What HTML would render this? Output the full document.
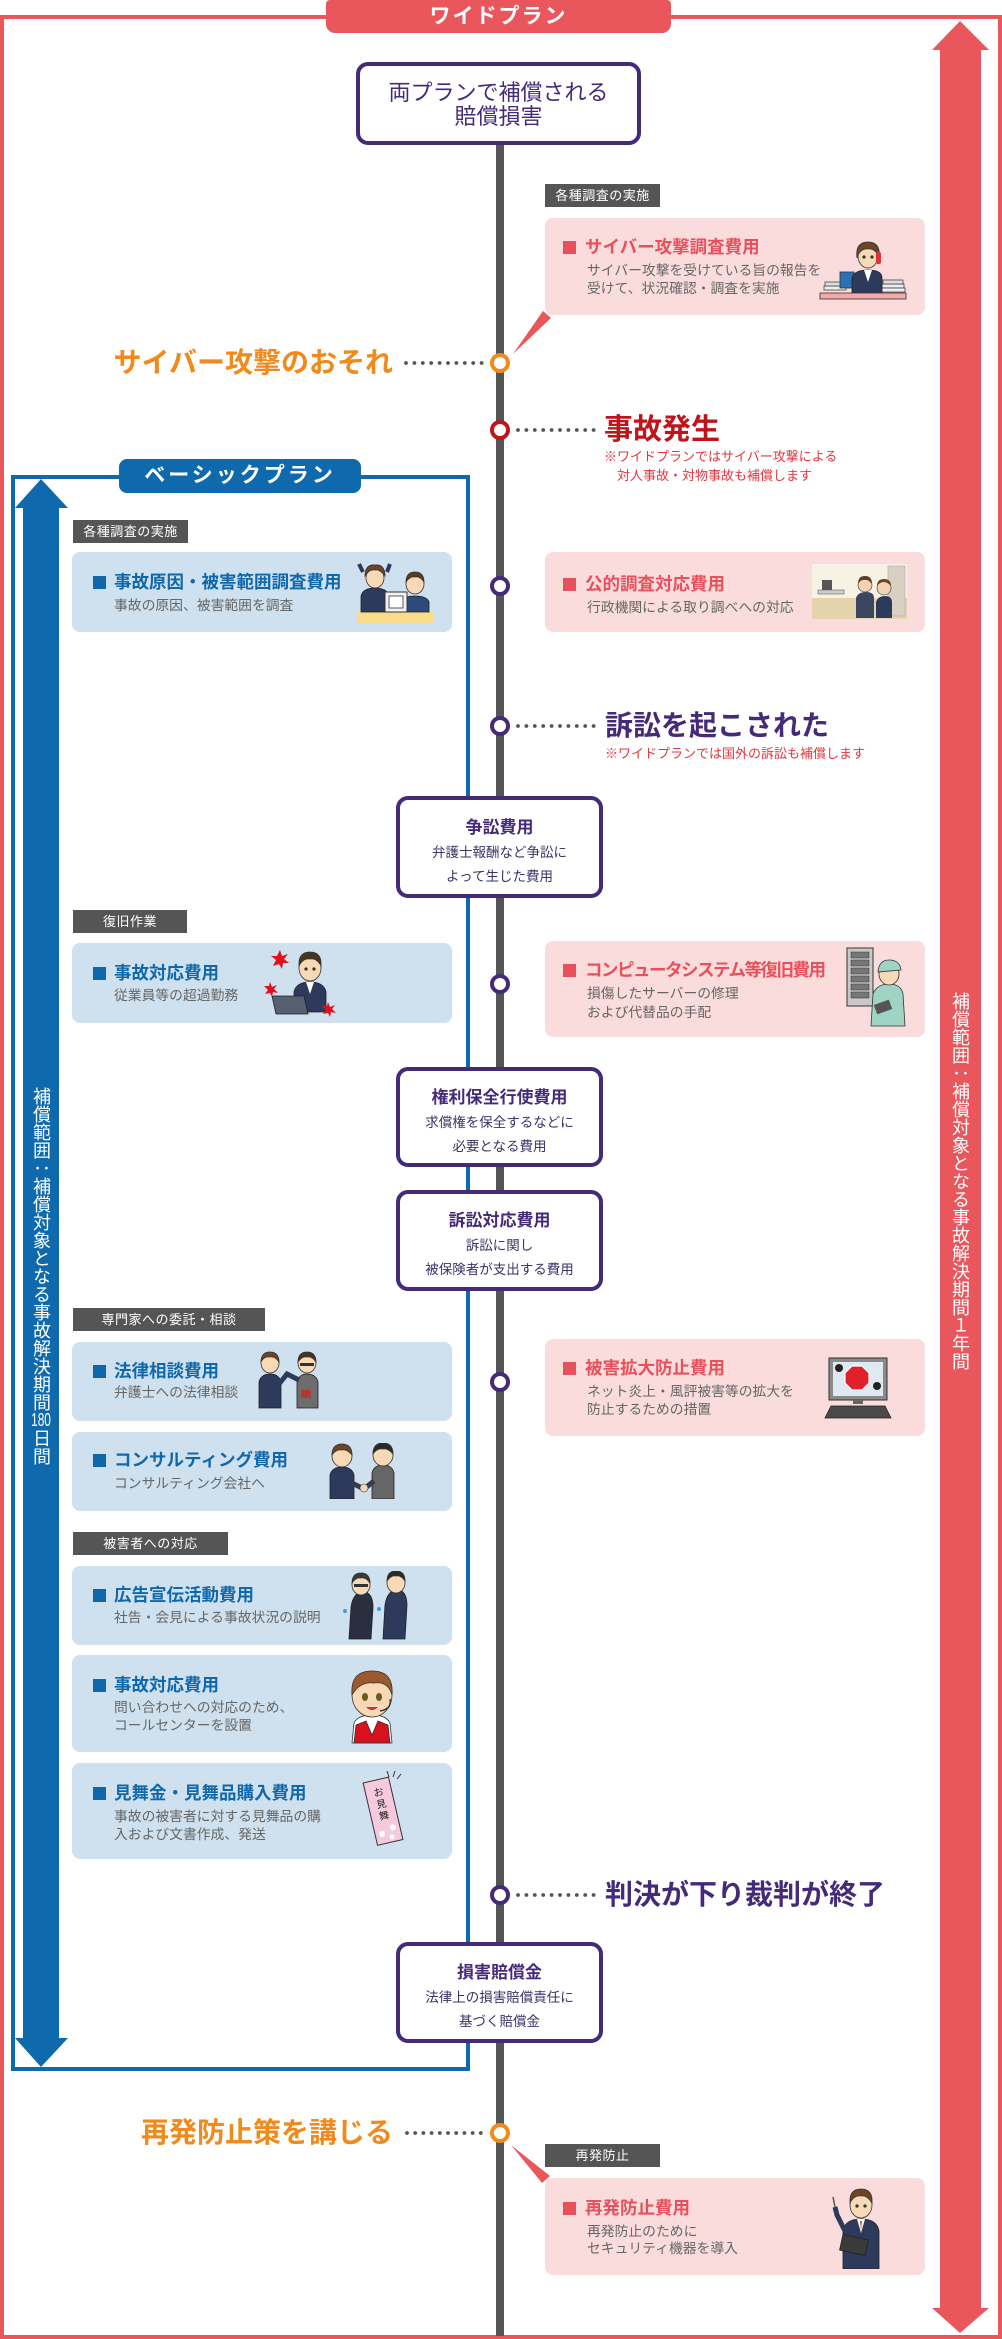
<!DOCTYPE html>
<html lang="ja">
<head>
<meta charset="utf-8">
<style>
*{margin:0;padding:0;box-sizing:border-box;}
html,body{width:1002px;height:2339px;background:#fff;overflow:hidden;}
body{position:relative;font-family:"Liberation Sans","Noto Sans CJK JP",sans-serif;}
.a{position:absolute;white-space:nowrap;}
.tag{position:absolute;background:#555;color:#fff;font-size:13px;line-height:23px;height:23px;text-align:center;letter-spacing:.5px;}
.pbox{position:absolute;left:545px;width:380px;background:#fadcdd;border-radius:8px;}
.bbox{position:absolute;left:72px;width:380px;background:#cfe1ee;border-radius:8px;}
.psq{position:absolute;left:563px;width:13px;height:13px;background:#e8505b;}
.bsq{position:absolute;left:93px;width:13px;height:13px;background:#1068ac;}
.pt{position:absolute;left:585px;font-size:17.5px;line-height:20px;font-weight:700;color:#e8505b;white-space:nowrap;}
.bt{position:absolute;left:114px;font-size:17.5px;line-height:20px;font-weight:700;color:#1068ac;white-space:nowrap;}
.pd{position:absolute;left:587px;font-size:13.8px;line-height:18px;color:#666;white-space:nowrap;}
.bd{position:absolute;left:114px;font-size:13.8px;line-height:18px;color:#666;white-space:nowrap;}
.node{position:absolute;left:396px;width:207px;background:#fff;border:4px solid #452a7a;border-radius:12px;}
.nt{position:absolute;left:396px;width:207px;text-align:center;font-size:17px;line-height:20px;font-weight:700;color:#452a7a;}
.nd{position:absolute;left:396px;width:207px;text-align:center;font-size:13.5px;line-height:24px;color:#3a3466;}
.big{position:absolute;font-size:28px;line-height:32px;font-weight:700;white-space:nowrap;}
.note{position:absolute;left:604px;font-size:13px;line-height:19px;color:#e6343c;white-space:nowrap;}
.vt{position:absolute;writing-mode:vertical-rl;font-size:18px;line-height:18px;width:18px;color:#fff;white-space:nowrap;}
.ill{position:absolute;}
</style>
</head>
<body>

<svg class="a" style="left:0;top:0" width="1002" height="2339" viewBox="0 0 1002 2339">
  <rect x="2" y="17" width="998" height="2320" fill="none" stroke="#e9565c" stroke-width="4"/>
  <polygon points="960,21 989,50 981,50 981,2308 989,2308 960,2333 932,2308 940,2308 940,50 932,50" fill="#e9565c"/>
  <rect x="13" y="477" width="455" height="1592" fill="none" stroke="#0e69ad" stroke-width="4"/>
  <polygon points="41,479 68,508 59,508 59,2038 68,2038 41,2067 15,2038 23,2038 23,508 15,508" fill="#0e69ad"/>
  <rect x="496" y="140" width="8" height="2196" fill="#555"/>
  <polygon points="543,311 551,318 513,354" fill="#e9565c"/>
  <polygon points="511,2145 550,2176 542,2183" fill="#e9565c"/>
  <g fill="#555">
    <circle cx="406" cy="363" r="1.9"/><circle cx="414.4" cy="363" r="1.9"/><circle cx="422.8" cy="363" r="1.9"/><circle cx="431.2" cy="363" r="1.9"/><circle cx="439.6" cy="363" r="1.9"/><circle cx="448" cy="363" r="1.9"/><circle cx="456.4" cy="363" r="1.9"/><circle cx="464.8" cy="363" r="1.9"/><circle cx="473.2" cy="363" r="1.9"/><circle cx="481.6" cy="363" r="1.9"/>
    <circle cx="518" cy="430" r="1.9"/><circle cx="526.4" cy="430" r="1.9"/><circle cx="534.8" cy="430" r="1.9"/><circle cx="543.2" cy="430" r="1.9"/><circle cx="551.6" cy="430" r="1.9"/><circle cx="560" cy="430" r="1.9"/><circle cx="568.4" cy="430" r="1.9"/><circle cx="576.8" cy="430" r="1.9"/><circle cx="585.2" cy="430" r="1.9"/><circle cx="593.6" cy="430" r="1.9"/>
    <circle cx="518" cy="726" r="1.9"/><circle cx="526.4" cy="726" r="1.9"/><circle cx="534.8" cy="726" r="1.9"/><circle cx="543.2" cy="726" r="1.9"/><circle cx="551.6" cy="726" r="1.9"/><circle cx="560" cy="726" r="1.9"/><circle cx="568.4" cy="726" r="1.9"/><circle cx="576.8" cy="726" r="1.9"/><circle cx="585.2" cy="726" r="1.9"/><circle cx="593.6" cy="726" r="1.9"/>
    <circle cx="518" cy="1895" r="1.9"/><circle cx="526.4" cy="1895" r="1.9"/><circle cx="534.8" cy="1895" r="1.9"/><circle cx="543.2" cy="1895" r="1.9"/><circle cx="551.6" cy="1895" r="1.9"/><circle cx="560" cy="1895" r="1.9"/><circle cx="568.4" cy="1895" r="1.9"/><circle cx="576.8" cy="1895" r="1.9"/><circle cx="585.2" cy="1895" r="1.9"/><circle cx="593.6" cy="1895" r="1.9"/>
    <circle cx="407" cy="2133" r="1.9"/><circle cx="415.2" cy="2133" r="1.9"/><circle cx="423.4" cy="2133" r="1.9"/><circle cx="431.6" cy="2133" r="1.9"/><circle cx="439.8" cy="2133" r="1.9"/><circle cx="448" cy="2133" r="1.9"/><circle cx="456.2" cy="2133" r="1.9"/><circle cx="464.4" cy="2133" r="1.9"/><circle cx="472.6" cy="2133" r="1.9"/><circle cx="480.8" cy="2133" r="1.9"/>
  </g>
  <g fill="#fff" stroke-width="4">
    <circle cx="500" cy="363" r="8" stroke="#f08a1c"/>
    <circle cx="500" cy="430" r="8" stroke="#c0141b"/>
    <circle cx="500" cy="586" r="8" stroke="#452a7a"/>
    <circle cx="500" cy="726" r="8" stroke="#452a7a"/>
    <circle cx="500" cy="984" r="8" stroke="#452a7a"/>
    <circle cx="500" cy="1382" r="8" stroke="#452a7a"/>
    <circle cx="500" cy="1895" r="8" stroke="#452a7a"/>
    <circle cx="500" cy="2133" r="8" stroke="#f08a1c"/>
  </g>
</svg>

<div class="a" style="left:326px;top:0;width:345px;height:33px;background:#e9565c;border-radius:4px 4px 9px 9px;color:#fff;font-size:21px;font-weight:700;line-height:33px;text-align:center;letter-spacing:2px;">ワイドプラン</div>

<div class="a" style="left:119px;top:459px;width:242px;height:34px;background:#0e69ad;border-radius:8px;color:#fff;font-size:21px;font-weight:700;line-height:34px;text-align:center;letter-spacing:3px;">ベーシックプラン</div>

<div class="vt" style="left:32px;top:1087px;">補償範囲：補償対象となる事故解決期間<span style="text-combine-upright:all;">180</span>日間</div>
<div class="vt" style="left:951px;top:992px;">補償範囲：補償対象となる事故解決期間１年間</div>

<div class="a" style="left:356px;top:62px;width:285px;height:83px;border:4px solid #452a7a;border-radius:12px;background:#fff;"></div>
<div class="a" style="left:356px;top:81px;width:285px;text-align:center;font-size:22px;line-height:24px;color:#452a7a;">両プランで補償される<br>賠償損害</div>

<div class="big" style="left:0;width:393px;text-align:right;top:347px;color:#f08a1c;">サイバー攻撃のおそれ</div>
<div class="big" style="left:604px;top:414px;color:#c0141b;font-size:29px;">事故発生</div>
<div class="note" style="top:447px;">※ワイドプランではサイバー攻撃による<br>　対人事故・対物事故も補償します</div>
<div class="big" style="left:605px;top:710px;color:#452a7a;">訴訟を起こされた</div>
<div class="note" style="top:744px;left:605px;">※ワイドプランでは国外の訴訟も補償します</div>
<div class="big" style="left:605px;top:1879px;color:#452a7a;">判決が下り裁判が終了</div>
<div class="big" style="left:0;width:393px;text-align:right;top:2117px;color:#f08a1c;">再発防止策を講じる</div>

<div class="tag" style="left:545px;top:184px;width:115px;">各種調査の実施</div>
<div class="tag" style="left:73px;top:520px;width:115px;">各種調査の実施</div>
<div class="tag" style="left:73px;top:910px;width:114px;">復旧作業</div>
<div class="tag" style="left:73px;top:1308px;width:192px;">専門家への委託・相談</div>
<div class="tag" style="left:73px;top:1532px;width:155px;">被害者への対応</div>
<div class="tag" style="left:545px;top:2144px;width:115px;">再発防止</div>

<div class="pbox" style="top:218px;height:97px;"></div>
<div class="psq" style="top:241px;"></div>
<div class="pt" style="top:237px;">サイバー攻撃調査費用</div>
<div class="pd" style="top:262px;">サイバー攻撃を受けている旨の報告を<br>受けて、状況確認・調査を実施</div>

<div class="pbox" style="top:552px;height:80px;"></div>
<div class="psq" style="top:578px;"></div>
<div class="pt" style="top:574px;">公的調査対応費用</div>
<div class="pd" style="top:599px;">行政機関による取り調べへの対応</div>

<div class="pbox" style="top:941px;height:96px;"></div>
<div class="psq" style="top:964px;"></div>
<div class="pt" style="top:960px;letter-spacing:-1.5px;">コンピュータシステム等復旧費用</div>
<div class="pd" style="top:984px;line-height:19px;">損傷したサーバーの修理<br>および代替品の手配</div>

<div class="pbox" style="top:1339px;height:97px;"></div>
<div class="psq" style="top:1362px;"></div>
<div class="pt" style="top:1358px;">被害拡大防止費用</div>
<div class="pd" style="top:1383px;">ネット炎上・風評被害等の拡大を<br>防止するための措置</div>

<div class="pbox" style="top:2178px;height:97px;"></div>
<div class="psq" style="top:2202px;"></div>
<div class="pt" style="top:2198px;">再発防止費用</div>
<div class="pd" style="top:2223px;line-height:17px;">再発防止のために<br>セキュリティ機器を導入</div>

<div class="bbox" style="top:552px;height:80px;"></div>
<div class="bsq" style="top:576px;"></div>
<div class="bt" style="top:572px;">事故原因・被害範囲調査費用</div>
<div class="bd" style="top:597px;">事故の原因、被害範囲を調査</div>

<div class="bbox" style="top:943px;height:80px;"></div>
<div class="bsq" style="top:967px;"></div>
<div class="bt" style="top:963px;">事故対応費用</div>
<div class="bd" style="top:987px;">従業員等の超過勤務</div>

<div class="bbox" style="top:1342px;height:79px;"></div>
<div class="bsq" style="top:1365px;"></div>
<div class="bt" style="top:1361px;">法律相談費用</div>
<div class="bd" style="top:1384px;">弁護士への法律相談</div>

<div class="bbox" style="top:1432px;height:79px;"></div>
<div class="bsq" style="top:1454px;"></div>
<div class="bt" style="top:1450px;">コンサルティング費用</div>
<div class="bd" style="top:1475px;">コンサルティング会社へ</div>

<div class="bbox" style="top:1566px;height:79px;"></div>
<div class="bsq" style="top:1589px;"></div>
<div class="bt" style="top:1585px;">広告宣伝活動費用</div>
<div class="bd" style="top:1609px;">社告・会見による事故状況の説明</div>

<div class="bbox" style="top:1655px;height:97px;"></div>
<div class="bsq" style="top:1679px;"></div>
<div class="bt" style="top:1675px;">事故対応費用</div>
<div class="bd" style="top:1699px;">問い合わせへの対応のため、<br>コールセンターを設置</div>

<div class="bbox" style="top:1763px;height:96px;"></div>
<div class="bsq" style="top:1787px;"></div>
<div class="bt" style="top:1783px;">見舞金・見舞品購入費用</div>
<div class="bd" style="top:1808px;">事故の被害者に対する見舞品の購<br>入および文書作成、発送</div>

<div class="node" style="top:796px;height:102px;"></div>
<div class="nt" style="top:818px;">争訟費用</div>
<div class="nd" style="top:841px;">弁護士報酬など争訟に<br>よって生じた費用</div>

<div class="node" style="top:1067px;height:100px;"></div>
<div class="nt" style="top:1088px;">権利保全行使費用</div>
<div class="nd" style="top:1111px;">求償権を保全するなどに<br>必要となる費用</div>

<div class="node" style="top:1190px;height:101px;"></div>
<div class="nt" style="top:1211px;">訴訟対応費用</div>
<div class="nd" style="top:1234px;">訴訟に関し<br>被保険者が支出する費用</div>

<div class="node" style="top:1942px;height:101px;"></div>
<div class="nt" style="top:1963px;">損害賠償金</div>
<div class="nd" style="top:1986px;">法律上の損害賠償責任に<br>基づく賠償金</div>

<svg class="ill" style="left:818px;top:238px" width="90" height="66" viewBox="0 0 90 66">
  <rect x="6" y="48" width="22" height="4" fill="#eee" stroke="#444" stroke-width=".8"/>
  <rect x="7" y="44" width="20" height="4" fill="#ddd" stroke="#444" stroke-width=".8"/>
  <rect x="64" y="46" width="22" height="4" fill="#eee" stroke="#444" stroke-width=".8"/>
  <rect x="65" y="42" width="20" height="4" fill="#ddd" stroke="#444" stroke-width=".8"/>
  <rect x="63" y="50" width="24" height="4" fill="#eee" stroke="#444" stroke-width=".8"/>
  <rect x="22" y="34" width="14" height="16" fill="#2a72b8" stroke="#333" stroke-width=".8"/>
  <path d="M34 56 L34 40 Q36 32 50 32 Q64 32 64 40 L64 56 Z" fill="#2d3a5c" stroke="#222" stroke-width=".8"/>
  <path d="M46 32 L50 44 L54 32Z" fill="#fff"/>
  <ellipse cx="50" cy="18" rx="10" ry="12" fill="#f7d9b5" stroke="#333" stroke-width=".8"/>
  <path d="M39 20 Q37 4 50 4 Q63 4 61 20 Q58 10 50 11 Q42 10 39 20Z" fill="#6b4526" stroke="#333" stroke-width=".8"/>
  <rect x="58" y="14" width="5" height="12" rx="2" fill="#d33"/>
  <circle cx="46" cy="19" r="1.6" fill="#333"/><circle cx="54" cy="19" r="1.6" fill="#333"/>
  <rect x="2" y="55" width="86" height="6" fill="#f3a9a9" stroke="#333" stroke-width=".8"/>
</svg>

<svg class="ill" style="left:355px;top:560px" width="80" height="66" viewBox="0 0 80 66">
  <rect x="2" y="52" width="76" height="12" fill="#f8dc8a"/>
  <path d="M6 52 L6 36 Q8 28 20 28 Q32 28 34 36 L34 52Z" fill="#2d3a5c" stroke="#222" stroke-width=".8"/>
  <ellipse cx="20" cy="18" rx="9" ry="10" fill="#f7d9b5" stroke="#333" stroke-width=".8"/>
  <path d="M10 16 Q10 4 20 5 Q30 4 30 16 Q25 9 20 10 Q14 9 10 16Z" fill="#6b4526" stroke="#333" stroke-width=".8"/>
  <path d="M8 12 L4 4 M32 12 L35 4" stroke="#2d3a5c" stroke-width="4"/>
  <path d="M46 52 L46 42 Q48 36 60 36 Q72 36 74 42 L74 52Z" fill="#2d4a7a" stroke="#222" stroke-width=".8"/>
  <ellipse cx="60" cy="24" rx="9" ry="10" fill="#f7d9b5" stroke="#333" stroke-width=".8"/>
  <path d="M51 22 Q51 12 60 12 Q69 12 69 22 Q65 16 60 17 Q55 16 51 22Z" fill="#5a3d22" stroke="#333" stroke-width=".8"/>
  <rect x="30" y="32" width="22" height="20" fill="#f2f2f2" stroke="#333" stroke-width="1"/>
  <rect x="34" y="36" width="14" height="12" fill="#fff" stroke="#333" stroke-width=".8"/>
</svg>

<svg class="ill" style="left:812px;top:564px" width="95" height="55" viewBox="0 0 95 55">
  <rect x="0" y="0" width="95" height="55" fill="#f6f2e4"/>
  <rect x="0" y="34" width="95" height="21" fill="#e5d3ae"/>
  <rect x="76" y="2" width="17" height="50" fill="#d9cfc2" stroke="#aaa" stroke-width=".6"/>
  <rect x="6" y="26" width="26" height="4" fill="#ccc" stroke="#666" stroke-width=".6"/>
  <rect x="10" y="16" width="10" height="10" fill="#555"/>
  <path d="M44 54 L44 34 Q46 28 54 28 Q62 28 62 34 L62 54Z" fill="#3b4660"/>
  <circle cx="53" cy="21" r="7" fill="#f2d3b0" stroke="#333" stroke-width=".6"/>
  <path d="M46 20 Q46 12 53 12 Q60 12 60 20 Q56 15 53 16 Q49 15 46 20Z" fill="#5a3d22"/>
  <path d="M64 54 L64 38 Q66 32 73 32 Q80 32 80 38 L80 54Z" fill="#2d3a5c"/>
  <circle cx="72" cy="24" r="7" fill="#f2d3b0" stroke="#333" stroke-width=".6"/>
  <path d="M65 22 Q65 15 72 15 Q79 15 79 22 Q75 18 72 18 Q68 18 65 22Z" fill="#6b4526"/>
</svg>

<svg class="ill" style="left:260px;top:946px" width="78" height="74" viewBox="0 0 78 74">
  <path d="M34 66 L34 46 Q36 36 50 36 Q64 36 66 46 L66 66Z" fill="#2d3a5c" stroke="#222" stroke-width=".8"/>
  <path d="M46 36 L50 48 L54 36Z" fill="#fff"/>
  <ellipse cx="50" cy="22" rx="11" ry="13" fill="#f7d9b5" stroke="#333" stroke-width=".8"/>
  <path d="M39 20 Q38 6 50 6 Q62 6 61 20 Q57 12 50 13 Q43 12 39 20Z" fill="#4a3420" stroke="#333" stroke-width=".8"/>
  <circle cx="46" cy="23" r="1.6" fill="#333"/><circle cx="54" cy="23" r="1.6" fill="#333"/>
  <polygon points="12,50 44,50 48,68 16,68" fill="#556070" stroke="#222" stroke-width=".8"/>
  <polygon points="20,4 22,10 28,8 24,13 29,17 23,17 22,23 19,18 13,20 16,14 11,10 17,10" fill="#e0101c"/>
  <polygon points="10,36 12,41 17,39 14,43 18,47 13,46 12,51 10,47 5,48 8,44 4,40 9,40" fill="#e0101c"/>
  <polygon points="68,56 70,61 75,59 72,63 76,67 71,66 70,71 68,67 63,68 66,64 62,60 67,60" fill="#e0101c"/>
</svg>

<svg class="ill" style="left:845px;top:946px" width="68" height="86" viewBox="0 0 68 86">
  <rect x="2" y="2" width="26" height="58" fill="#c8c8c8" stroke="#333" stroke-width="1"/>
  <g fill="#777" stroke="#333" stroke-width=".5">
    <rect x="6" y="6" width="18" height="6"/><rect x="6" y="14" width="18" height="6"/><rect x="6" y="22" width="18" height="6"/><rect x="6" y="30" width="18" height="6"/><rect x="6" y="38" width="18" height="6"/><rect x="6" y="46" width="18" height="6"/>
  </g>
  <path d="M26 80 L28 48 Q32 38 44 38 Q56 38 58 48 L60 80Z" fill="#9fd4c4" stroke="#333" stroke-width=".8"/>
  <ellipse cx="44" cy="28" rx="10" ry="11" fill="#f7d9b5" stroke="#333" stroke-width=".8"/>
  <path d="M33 26 Q34 14 44 14 Q55 14 56 24 L33 26Z" fill="#9fd4c4" stroke="#333" stroke-width=".8"/>
  <rect x="30" y="56" width="16" height="10" fill="#555" transform="rotate(-20 38 61)"/>
</svg>

<svg class="ill" style="left:255px;top:1350px" width="70" height="60" viewBox="0 0 70 60">
  <path d="M4 58 L4 32 Q6 24 15 24 Q24 24 26 32 L26 58Z" fill="#2d3a5c" stroke="#222" stroke-width=".8"/>
  <ellipse cx="15" cy="13" rx="9" ry="10" fill="#f7d9b5" stroke="#333" stroke-width=".8"/>
  <path d="M6 12 Q6 2 15 2 Q24 2 24 12 Q20 6 15 7 Q9 6 6 12Z" fill="#6b4526" stroke="#333" stroke-width=".8"/>
  <path d="M42 58 L42 32 Q44 24 52 24 Q61 24 63 32 L63 58Z" fill="#6d6d6d" stroke="#222" stroke-width=".8"/>
  <ellipse cx="52" cy="13" rx="9" ry="10" fill="#f7d9b5" stroke="#333" stroke-width=".8"/>
  <path d="M43 12 Q43 2 52 2 Q61 2 61 12 Q57 6 52 7 Q47 6 43 12Z" fill="#4a3420" stroke="#333" stroke-width=".8"/>
  <rect x="45" y="13" width="14" height="3" fill="#333"/>
  <path d="M24 34 L32 24 L44 30" stroke="#2d3a5c" stroke-width="5" fill="none"/>
  <rect x="46" y="40" width="10" height="8" fill="#b03a3a"/>
</svg>

<svg class="ill" style="left:326px;top:1443px" width="76" height="56" viewBox="0 0 76 56">
  <path d="M4 56 L4 32 Q6 24 16 24 Q26 24 28 32 L28 56Z" fill="#2d3a5c" stroke="#222" stroke-width=".8"/>
  <ellipse cx="16" cy="13" rx="10" ry="11" fill="#f7d9b5" stroke="#333" stroke-width=".8"/>
  <path d="M6 12 Q6 1 16 1 Q26 1 26 12 Q21 6 16 7 Q10 6 6 12Z" fill="#6b4526" stroke="#333" stroke-width=".8"/>
  <path d="M46 56 L46 30 Q48 22 57 22 Q66 22 68 30 L68 56Z" fill="#666" stroke="#222" stroke-width=".8"/>
  <ellipse cx="57" cy="12" rx="10" ry="11" fill="#f7d9b5" stroke="#333" stroke-width=".8"/>
  <path d="M47 11 Q47 0 57 0 Q67 0 67 11 Q62 5 57 6 Q51 5 47 11Z" fill="#2a2a2a" stroke="#333" stroke-width=".8"/>
  <path d="M26 40 L38 46 L48 38" stroke="#3a3a50" stroke-width="5" fill="none"/>
  <circle cx="38" cy="45" r="4" fill="#f7d9b5" stroke="#333" stroke-width=".6"/>
</svg>

<svg class="ill" style="left:821px;top:1356px" width="74" height="64" viewBox="0 0 74 64">
  <rect x="8" y="2" width="58" height="42" fill="#8a8a8a" stroke="#333" stroke-width="1"/>
  <rect x="12" y="6" width="50" height="34" fill="#dfe9f2"/>
  <polygon points="31,10 41,10 48,17 48,27 41,34 31,34 24,27 24,17" fill="#e0202a" stroke="#fff" stroke-width="1.2"/>
  <circle cx="18" cy="12" r="4" fill="#222"/><circle cx="56" cy="30" r="4" fill="#222"/>
  <rect x="32" y="44" width="10" height="4" fill="#666"/>
  <polygon points="10,50 64,50 70,62 4,62" fill="#4a4a4a" stroke="#222" stroke-width=".8"/>
</svg>

<svg class="ill" style="left:341px;top:1571px" width="74" height="70" viewBox="0 0 74 70">
  <path d="M8 68 L10 36 Q12 22 22 20 Q32 22 32 36 L30 68Z" fill="#2a2f40" stroke="#222" stroke-width=".8"/>
  <ellipse cx="20" cy="14" rx="9" ry="10" fill="#f7d9b5" stroke="#333" stroke-width=".8"/>
  <path d="M11 12 Q11 2 20 2 Q29 2 29 12 Q25 6 20 7 Q15 6 11 12Z" fill="#3a3a3a" stroke="#333" stroke-width=".8"/>
  <rect x="13" y="13" width="14" height="3" fill="#333"/>
  <path d="M42 68 L44 34 Q46 20 56 18 Q66 20 66 34 L64 68Z" fill="#2d3a5c" stroke="#222" stroke-width=".8"/>
  <ellipse cx="55" cy="12" rx="9" ry="10" fill="#f7d9b5" stroke="#333" stroke-width=".8"/>
  <path d="M46 10 Q46 0 55 0 Q64 0 64 10 Q60 4 55 5 Q50 4 46 10Z" fill="#2a2a2a" stroke="#333" stroke-width=".8"/>
  <circle cx="4" cy="40" r="2" fill="#3aa0e0"/><circle cx="38" cy="38" r="2" fill="#3aa0e0"/>
</svg>

<svg class="ill" style="left:340px;top:1665px" width="66" height="80" viewBox="0 0 66 80">
  <path d="M12 78 L14 58 Q18 50 32 50 Q46 50 50 58 L52 78Z" fill="#fff" stroke="#333" stroke-width=".8"/>
  <path d="M14 78 L16 60 L26 56 L32 70 L38 56 L48 60 L50 78Z" fill="#d8121c" stroke="#333" stroke-width=".8"/>
  <ellipse cx="32" cy="30" rx="20" ry="22" fill="#f7d9b5" stroke="#333" stroke-width=".8"/>
  <path d="M12 30 Q10 6 32 6 Q54 6 52 30 Q48 16 34 18 Q20 16 12 30Z" fill="#9a5a2e" stroke="#333" stroke-width=".8"/>
  <ellipse cx="25" cy="32" rx="3" ry="4" fill="#6a5a20"/><ellipse cx="39" cy="32" rx="3" ry="4" fill="#6a5a20"/>
  <path d="M26 42 Q32 48 38 42" fill="#c33"/>
  <path d="M50 34 Q52 44 40 46" stroke="#333" stroke-width="1.4" fill="none"/>
</svg>

<svg class="ill" style="left:359px;top:1771px" width="50" height="78" viewBox="0 0 50 78">
  <g transform="rotate(-13 25 40)">
    <rect x="11" y="8" width="26" height="64" fill="#f7c9dc" stroke="#333" stroke-width="1"/>
    <text x="24" y="24" font-size="10" text-anchor="middle" fill="#222" font-family="Noto Sans CJK JP, sans-serif">お</text>
    <text x="24" y="36" font-size="10" text-anchor="middle" fill="#222" font-family="Noto Sans CJK JP, sans-serif">見</text>
    <text x="24" y="48" font-size="10" text-anchor="middle" fill="#222" font-family="Noto Sans CJK JP, sans-serif">舞</text>
    <circle cx="18" cy="62" r="3" fill="#fff"/><circle cx="30" cy="58" r="3" fill="#fff"/><circle cx="27" cy="67" r="2.5" fill="#fff"/>
  </g>
  <path d="M30 6 L28 0 M34 6 L36 0 M38 8 L42 3" stroke="#333" stroke-width="1"/>
</svg>

<svg class="ill" style="left:829px;top:2185px" width="62" height="84" viewBox="0 0 62 84">
  <path d="M14 84 L14 46 Q16 34 32 34 Q48 34 50 46 L50 84Z" fill="#2d3a5c" stroke="#222" stroke-width=".8"/>
  <path d="M28 34 L32 48 L36 34Z" fill="#fff"/>
  <path d="M31 36 L32 46 L33 36Z" fill="#d35a1a"/>
  <ellipse cx="32" cy="20" rx="11" ry="13" fill="#f7d9b5" stroke="#333" stroke-width=".8"/>
  <path d="M21 18 Q20 4 32 4 Q44 4 43 18 Q38 10 32 11 Q25 10 21 18Z" fill="#6b4526" stroke="#333" stroke-width=".8"/>
  <circle cx="28" cy="21" r="1.6" fill="#333"/><circle cx="36" cy="21" r="1.6" fill="#333"/>
  <path d="M16 46 L8 30 L6 22" stroke="#2d3a5c" stroke-width="5" fill="none"/>
  <line x1="6" y1="22" x2="4" y2="12" stroke="#555" stroke-width="1.5"/>
  <rect x="12" y="52" width="26" height="16" fill="#3a3a3a" stroke="#222" stroke-width=".8" transform="rotate(12 25 60)"/>
</svg>

</body>
</html>
